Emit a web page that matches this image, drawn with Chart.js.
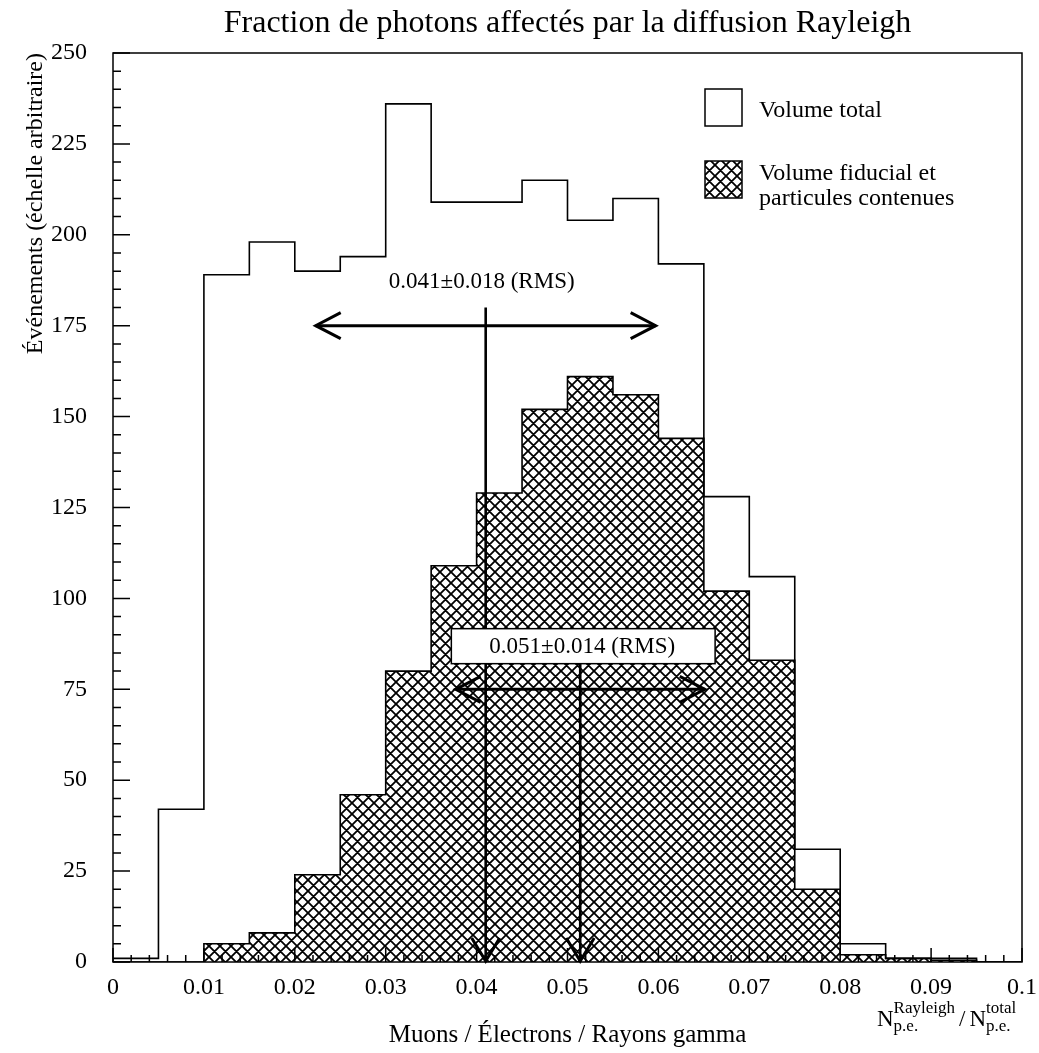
<!DOCTYPE html>
<html>
<head>
<meta charset="utf-8">
<title>Fraction de photons affectés par la diffusion Rayleigh</title>
<script src="https://cdn.jsdelivr.net/npm/chart.js@4.4.0/dist/chart.umd.min.js"></script>
<style>
  body { margin: 0; background: #fff; }
</style>
</head>
<body>
<canvas id="myChart" width="1039" height="1053"></canvas>
<script>
// histogram bins (lower edges + last upper edge)
const binEdges = [0, 0.005, 0.01, 0.015, 0.02, 0.025, 0.03, 0.035, 0.04, 0.045, 0.05,
                  0.055, 0.06, 0.065, 0.07, 0.075, 0.08, 0.085, 0.09, 0.095, 0.1];
const totalCounts    = [1, 42, 189, 198, 190, 194, 236, 209, 209, 215, 204, 210, 192, 128, 106, 31, 5, 1, 1, 0];
const fiducialCounts = [0, 0, 5, 8, 24, 46, 80, 109, 129, 152, 161, 156, 144, 102, 83, 20, 2, 1, 0.5, 0];

const xTickLabels = ['0', '0.01', '0.02', '0.03', '0.04', '0.05', '0.06', '0.07', '0.08', '0.09', '0.1'];
const yTickLabels = ['0', '25', '50', '75', '100', '125', '150', '175', '200', '225', '250'];

const seriesNames = [['Volume total'], ['Volume fiducial et', 'particules contenues']];

// mean / RMS markers
const rmsLabels = ['0.041\u00b10.018 (RMS)', '0.051\u00b10.014 (RMS)'];
const rmsMean   = [0.0410, 0.0514];
const rmsWidth  = [0.0187, 0.0137];
const rmsArrowY = [175, 75];
const rmsTextY  = [187, 87];
const rmsStemTop = [180, 82];

const serif = "'Liberation Serif', 'Times New Roman', serif";
Chart.defaults.font.family = serif;
Chart.defaults.color = '#000';

function histPoints(counts) {
  return binEdges.map(function (e, i) {
    return { x: e, y: counts[Math.min(i, counts.length - 1)] };
  });
}

function makeHatch(ctx) {
  const s = 11;
  const c = document.createElement('canvas');
  c.width = s; c.height = s;
  const g = c.getContext('2d');
  g.strokeStyle = '#000';
  g.lineWidth = 1.8;
  g.beginPath();
  [-s, 0, s].forEach(function (k) {
    g.moveTo(k, 0); g.lineTo(k + s, s);
    g.moveTo(k + s, 0); g.lineTo(k, s);
  });
  g.stroke();
  return ctx.createPattern(c, 'repeat');
}

function arrowHead(ctx, tx, ty, dx, dy) {
  // open V head, tip at (tx,ty)
  ctx.beginPath();
  if (dy === 0) {
    ctx.moveTo(tx + dx, ty - 13); ctx.lineTo(tx, ty); ctx.lineTo(tx + dx, ty + 13);
  } else {
    ctx.moveTo(tx - 14, ty + dy); ctx.lineTo(tx, ty); ctx.lineTo(tx + 14, ty + dy);
  }
  ctx.stroke();
}

const myChart = document.getElementById('myChart');
const ctx2d = myChart.getContext('2d');
const hatch = makeHatch(ctx2d);

const decor = {
  id: 'decor',
  afterDatasetsDraw(chart) {
    const ctx = chart.ctx;
    const a = chart.chartArea;
    const x = chart.scales.x, y = chart.scales.y;
    ctx.save();
    ctx.strokeStyle = '#000';
    ctx.fillStyle = '#000';

    // frame
    ctx.lineWidth = 1.5;
    ctx.strokeRect(a.left, a.top, a.right - a.left, a.bottom - a.top);

    // inward ticks
    ctx.beginPath();
    for (let i = 0; i <= 50; i++) {
      const py = y.getPixelForValue(i * 5);
      const len = i % 5 === 0 ? 17 : 8;
      ctx.moveTo(a.left, py); ctx.lineTo(a.left + len, py);
    }
    for (let i = 0; i <= 50; i++) {
      const px = x.getPixelForValue(i * 0.002);
      const len = i % 5 === 0 ? 14 : 7;
      ctx.moveTo(px, a.bottom); ctx.lineTo(px, a.bottom - len);
    }
    ctx.stroke();

    // RMS markers
    ctx.font = '23px ' + serif;
    ctx.textAlign = 'center';
    ctx.textBaseline = 'middle';
    for (let k = 0; k < rmsLabels.length; k++) {
      const xl = x.getPixelForValue(rmsMean[k] - rmsWidth[k]);
      const xr = x.getPixelForValue(rmsMean[k] + rmsWidth[k]);
      const xm = x.getPixelForValue(rmsMean[k]);
      const ya = y.getPixelForValue(rmsArrowY[k]);
      const yt = y.getPixelForValue(rmsTextY[k]);
      const ys = y.getPixelForValue(rmsStemTop[k]);

      if (k === 1) {
        const w = ctx.measureText(rmsLabels[k]).width + 78;
        ctx.fillStyle = '#fff';
        ctx.fillRect(xm - w / 2 + 3, yt - 17, w, 35);
        ctx.lineWidth = 1.5;
        ctx.strokeRect(xm - w / 2 + 3, yt - 17, w, 35);
        ctx.fillStyle = '#000';
        ctx.fillText(rmsLabels[k], xm + 2, yt + 1);
      } else {
        ctx.fillText(rmsLabels[k], xm - 4, yt);
      }

      ctx.lineWidth = 3;
      ctx.beginPath();
      ctx.moveTo(xl, ya); ctx.lineTo(xr, ya);
      ctx.stroke();
      arrowHead(ctx, xl, ya, 25, 0);
      arrowHead(ctx, xr, ya, -25, 0);

      ctx.lineWidth = 2.6;
      ctx.beginPath();
      ctx.moveTo(xm, ys); ctx.lineTo(xm, a.bottom);
      ctx.stroke();
      ctx.lineWidth = 3;
      arrowHead(ctx, xm, a.bottom - 1, 0, -23);
    }

    // legend
    const lx = a.left + 592;
    const boxes = [a.top + 36, a.top + 108];
    ctx.lineWidth = 1.5;
    ctx.font = '24px ' + serif;
    ctx.textAlign = 'left';
    ctx.textBaseline = 'alphabetic';
    for (let k = 0; k < seriesNames.length; k++) {
      ctx.fillStyle = k === 0 ? '#fff' : hatch;
      ctx.fillRect(lx, boxes[k], 37, 37);
      ctx.strokeRect(lx, boxes[k], 37, 37);
      ctx.fillStyle = '#000';
      const lines = seriesNames[k];
      const base = k === 0 ? boxes[k] + 28 : boxes[k] + 19;
      lines.forEach(function (t, j) {
        ctx.fillText(t, lx + 54, base + j * 25);
      });
    }

    // ratio label under the x axis
    let px = a.right - 145;
    const by = a.bottom + 64;
    ctx.font = '23px ' + serif;
    ctx.fillText('N', px, by);
    px += ctx.measureText('N').width;
    ctx.font = '17px ' + serif;
    ctx.fillText('Rayleigh', px, by - 13);
    ctx.fillText('p.e.', px, by + 5);
    px += ctx.measureText('Rayleigh').width + 4;
    ctx.font = '23px ' + serif;
    ctx.fillText('/', px, by);
    px += ctx.measureText('/').width + 4;
    ctx.fillText('N', px, by);
    px += ctx.measureText('N').width;
    ctx.font = '17px ' + serif;
    ctx.fillText('total', px, by - 13);
    ctx.fillText('p.e.', px, by + 5);

    ctx.restore();
  }
};

new Chart(myChart, {
  type: 'line',
  data: {
    datasets: [
      {
        label: seriesNames[1].join(' '),
        data: histPoints(fiducialCounts),
        stepped: true,
        borderColor: '#000',
        borderWidth: 1.6,
        backgroundColor: hatch,
        fill: 'origin',
        pointRadius: 0
      },
      {
        label: seriesNames[0].join(' '),
        data: histPoints(totalCounts),
        stepped: true,
        borderColor: '#000',
        borderWidth: 1.6,
        backgroundColor: '#fff',
        fill: false,
        pointRadius: 0
      }
    ]
  },
  options: {
    responsive: false,
    animation: false,
    layout: { padding: { top: 0, right: 17, bottom: 0, left: 0 } },
    plugins: {
      legend: { display: false },
      tooltip: { enabled: false },
      title: {
        display: true,
        fullSize: false,
        text: 'Fraction de photons affectés par la diffusion Rayleigh',
        color: '#000',
        font: { size: 32, weight: 'normal', lineHeight: 1.1 },
        padding: { top: 6, bottom: 11.8 }
      }
    },
    scales: {
      x: {
        type: 'linear',
        min: 0,
        max: 0.1,
        grid: { display: false },
        border: { display: false },
        ticks: {
          stepSize: 0.01,
          autoSkip: false,
          maxRotation: 0,
          padding: 3,
          font: { size: 24 },
          callback: function (v, i) { return xTickLabels[i]; }
        },
        title: {
          display: true,
          text: 'Muons / Électrons / Rayons gamma',
          font: { size: 25 },
          padding: { top: 0, bottom: 3 }
        },
        afterFit: function (s) { s.height = 91; s.paddingLeft = 0; s.paddingRight = 0; }
      },
      y: {
        min: 0,
        max: 250,
        grid: { display: false },
        border: { display: false },
        ticks: {
          stepSize: 25,
          padding: 18,
          font: { size: 24 },
          callback: function (v, i) { return yTickLabels[i]; }
        },
        title: {
          display: true,
          text: 'Événements (échelle arbitraire)',
          align: 'end',
          font: { size: 24 },
          padding: { top: 21, bottom: 0 }
        },
        afterFit: function (s) { s.width = 113; s.paddingTop = 0; s.paddingBottom = 0; }
      }
    }
  },
  plugins: [decor]
});
</script>
</body>
</html>
